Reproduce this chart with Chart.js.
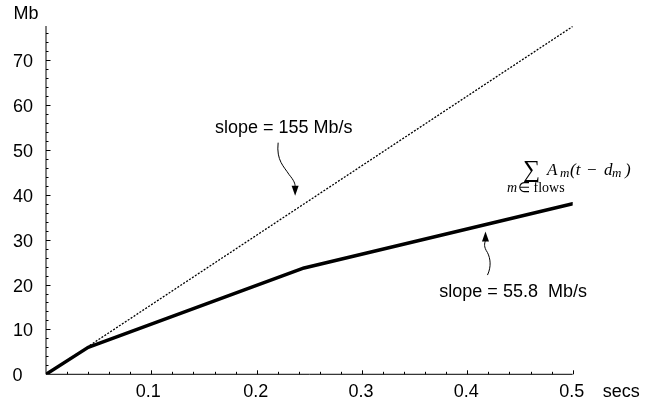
<!DOCTYPE html>
<html>
<head>
<meta charset="utf-8">
<script src="https://cdn.jsdelivr.net/npm/chart.js@4.4.1/dist/chart.umd.min.js"></script>
<style>
html,body{margin:0;padding:0;background:#fff;}
#wrap{width:652px;height:403px;position:relative;}
</style>
</head>
<body>
<div id="wrap"><canvas id="c" width="652" height="403"></canvas></div>
<script>
// ---- data ----
const linkX = [0, 0.5];
const linkY = [0, 77.5];          // slope = 155 Mb/s
const aggX = [0, 0.04, 0.245, 0.5];
const aggY = [0, 6, 23.7, 38];    // sum of flows
const xTickLabels = ['0.1', '0.2', '0.3', '0.4', '0.5'];
const xTickValues = [0.1, 0.2, 0.3, 0.4, 0.5];
const yTickLabels = ['0', '10', '20', '30', '40', '50', '60', '70'];
const yTickValues = [0, 10, 20, 30, 40, 50, 60, 70];
const xMinorStep = 0.02;
const yMinorStep = 2;
const xMax = 0.5, yMax = 77.6;

const toPts = (xs, ys) => xs.map((x, i) => ({x: x, y: ys[i]}));

const SANS = '"Liberation Sans", Arial, sans-serif';
const SERIF = '"Liberation Serif", "Times New Roman", serif';

const axesPlugin = {
  id: 'axesPlugin',
  afterDatasetsDraw(chart) {
    const ctx = chart.ctx;
    const xs = chart.scales.x, ys = chart.scales.y;
    const L = xs.getPixelForValue(0), R = xs.getPixelForValue(xMax);
    const B = ys.getPixelForValue(0), T = ys.getPixelForValue(yMax);
    ctx.save();
    ctx.strokeStyle = '#000';
    ctx.lineWidth = 1;
    // axis lines
    ctx.beginPath();
    ctx.moveTo(L, B); ctx.lineTo(L, T);
    ctx.moveTo(L, B); ctx.lineTo(R, B);
    ctx.stroke();
    // y ticks
    ctx.beginPath();
    for (let v = yMinorStep; v <= yMax + 1e-9; v += yMinorStep) {
      const p = Math.round(ys.getPixelForValue(v)) + 0.5;
      const major = Math.abs(v / 10 - Math.round(v / 10)) < 1e-6;
      ctx.moveTo(L, p); ctx.lineTo(L + (major ? 4.5 : 2.5), p);
    }
    // x ticks
    for (let v = xMinorStep; v <= xMax + 1e-9; v += xMinorStep) {
      const p = Math.round(xs.getPixelForValue(v)) + 0.5;
      const major = Math.abs(v / 0.1 - Math.round(v / 0.1)) < 1e-6;
      ctx.moveTo(p, B); ctx.lineTo(p, B - (major ? 4 : 2.5));
    }
    ctx.stroke();
    // tick labels
    ctx.fillStyle = '#000';
    ctx.font = '18px ' + SANS;
    ctx.textBaseline = 'middle';
    yTickValues.forEach((v, i) => {
      if (v === 0) {
        ctx.textAlign = 'left';
        ctx.fillText(yTickLabels[i], L - 33.5, ys.getPixelForValue(v) + 2);
      } else {
        ctx.textAlign = 'right';
        ctx.fillText(yTickLabels[i], L - 13, ys.getPixelForValue(v) + 2);
      }
    });
    ctx.textAlign = 'center';
    xTickValues.forEach((v, i) => {
      const off = (v === 0.1) ? -3 : -1;
      ctx.fillText(xTickLabels[i], xs.getPixelForValue(v) + off, B + 17.5);
    });
    // axis titles
    ctx.textAlign = 'center';
    ctx.fillText('Mb', L - 20, T - 12);
    ctx.textAlign = 'left';
    ctx.fillText('secs', R + 30, B + 17.5);

    // annotation 1: slope = 155 Mb/s
    ctx.textAlign = 'left';
    ctx.fillText('slope = 155 Mb/s', xs.getPixelForValue(0.1604), ys.getPixelForValue(54.9));
    let tx = xs.getPixelForValue(0.2365), ty = ys.getPixelForValue(39.8);
    ctx.beginPath();
    ctx.lineWidth = 1;
    ctx.moveTo(tx - 17, ty - 53);
    ctx.bezierCurveTo(tx - 19, ty - 35, tx - 11, ty - 29, tx - 6, ty - 21);
    ctx.bezierCurveTo(tx - 1, ty - 15, tx, ty - 12, tx, ty - 9);
    ctx.stroke();
    ctx.beginPath();
    ctx.moveTo(tx - 3.5, ty - 10); ctx.lineTo(tx + 3.5, ty - 10); ctx.lineTo(tx, ty);
    ctx.closePath(); ctx.fill();

    // annotation 2: slope = 55.8 Mb/s
    ctx.fillText('slope = 55.8  Mb/s', xs.getPixelForValue(0.3734), ys.getPixelForValue(18.3));
    tx = xs.getPixelForValue(0.4172); ty = ys.getPixelForValue(31.8);
    ctx.beginPath();
    ctx.moveTo(tx + 2, ty + 43.5);
    ctx.bezierCurveTo(tx + 6, ty + 35, tx + 5, ty + 27, tx + 2, ty + 21);
    ctx.bezierCurveTo(tx - 2, ty + 15, tx - 1, ty + 12, tx, ty + 9);
    ctx.stroke();
    ctx.beginPath();
    ctx.moveTo(tx - 3.5, ty + 10); ctx.lineTo(tx + 3.5, ty + 10); ctx.lineTo(tx, ty);
    ctx.closePath(); ctx.fill();

    // formula label for the aggregate curve
    const fx = xs.getPixelForValue(0.4528), fy = ys.getPixelForValue(44.4);
    ctx.textBaseline = 'alphabetic';
    ctx.textAlign = 'left';
    ctx.font = '24px ' + SERIF;
    ctx.fillText('\u2211', fx, fy + 2);
    ctx.font = 'italic 17px ' + SERIF;
    ctx.fillText('A', fx + 24, fy);
    ctx.font = 'italic 13px ' + SERIF;
    ctx.fillText('m', fx + 37, fy + 2);
    ctx.font = 'italic 17px ' + SERIF;
    ctx.fillText('(t', fx + 47, fy);
    ctx.fillText('\u2212', fx + 63, fy);
    ctx.fillText('d', fx + 81, fy);
    ctx.font = 'italic 13px ' + SERIF;
    ctx.fillText('m', fx + 89, fy + 2);
    ctx.font = 'italic 17px ' + SERIF;
    ctx.fillText(')', fx + 102, fy);
    ctx.font = 'italic 14px ' + SERIF;
    ctx.fillText('m', fx - 16, fy + 17);
    ctx.font = '14px ' + SERIF;
    ctx.fillText('\u2208 flows', fx - 5, fy + 17);
    ctx.restore();
  }
};

new Chart(document.getElementById('c'), {
  type: 'scatter',
  data: {
    datasets: [
      {
        label: 'link rate',
        data: toPts(linkX, linkY),
        showLine: true,
        borderColor: '#000',
        borderWidth: 1.3,
        borderDash: [2, 1.5],
        pointRadius: 0,
        fill: false
      },
      {
        label: 'aggregate',
        data: toPts(aggX, aggY),
        showLine: true,
        borderColor: '#000',
        borderWidth: 3.5,
        borderJoinStyle: 'round',
        borderCapStyle: 'round',
        pointRadius: 0,
        fill: false
      }
    ]
  },
  options: {
    responsive: false,
    animation: false,
    events: [],
    layout: { padding: { left: 46, top: 26, right: 79.3, bottom: 28.7 } },
    scales: {
      x: { type: 'linear', min: 0, max: xMax, display: false },
      y: { type: 'linear', min: 0, max: yMax, display: false }
    },
    plugins: {
      legend: { display: false },
      tooltip: { enabled: false },
      title: { display: false }
    }
  },
  plugins: [axesPlugin]
});
</script>
</body>
</html>
